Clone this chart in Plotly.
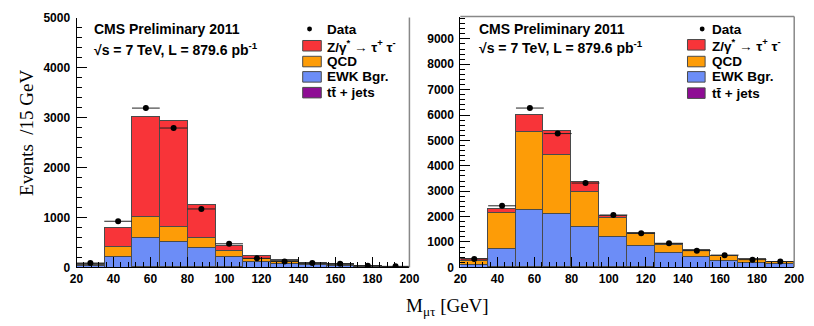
import numpy as np
import plotly.graph_objects as go

W, H = 814, 326

# ---------------- data ----------------
bin_lo = [20, 35, 50, 65, 80, 95, 110, 125, 140, 155, 170, 185]
bin_w = 15
x_ticks = [20, 40, 60, 80, 100, 120, 140, 160, 180, 200]
yL_ticks = [0, 1000, 2000, 3000, 4000, 5000]
yR_ticks = [0, 1000, 2000, 3000, 4000, 5000, 6000, 7000, 8000, 9000]

# Left panel (cumulative tops)
L_tt = [1, 4, 10, 10, 8, 6, 4, 3, 2, 1, 1, 1]
L_ewk_top = [35, 210, 594, 510, 400, 226, 123, 84, 52, 39, 20, 12]
L_qcd_top = [60, 420, 1020, 826, 594, 335, 180, 129, 84, 58, 28, 16]
L_z_top = [75, 800, 3020, 2935, 1258, 439, 232, 148, 90, 71, 32, 19]
L_data = [85, 922, 3187, 2788, 1168, 471, 180, 116, 84, 71, 32, 19]

# Right panel
R_tt = [3, 10, 25, 25, 20, 15, 10, 6, 4, 3, 2, 1]
R_ewk_top = [110, 757, 2270, 2120, 1600, 1200, 860, 593, 417, 278, 202, 139]
R_qcd_top = [260, 2146, 5330, 4430, 2980, 1970, 1325, 910, 670, 467, 328, 215]
R_z_top = [350, 2300, 6030, 5380, 3370, 2045, 1376, 934, 682, 480, 340, 227]
R_data = [328, 2424, 6275, 5270, 3320, 2060, 1340, 947, 657, 480, 303, 227]

labels = ["Data", "Z/γ<sup>*</sup> → τ<sup>+</sup> τ<sup>-</sup>", "QCD", "EWK Bgr.", "tt\u0304 + jets"]
C_Z, C_QCD, C_EWK, C_TT = "#f83439", "#fd9c07", "#6c8df7", "#8e0c94"
EDGE = "#4a4a4a"

centers = [b + bin_w / 2 for b in bin_lo]


def px(x):
    return x / W


def py(y):
    return 1 - y / H


def bold(vals):
    return ["<b>%d</b>" % v for v in vals]


fig = go.Figure()


def add_panel(xa, ya, tt, ewk_top, qcd_top, z_top, data):
    ewk = [e - t for e, t in zip(ewk_top, tt)]
    qcd = [q - e for q, e in zip(qcd_top, ewk_top)]
    z = [zz - q for zz, q in zip(z_top, qcd_top)]
    for vals, col in [(tt, C_TT), (ewk, C_EWK), (qcd, C_QCD), (z, C_Z)]:
        fig.add_trace(go.Bar(x=centers, y=vals, width=bin_w, marker=dict(color=col, line=dict(color=EDGE, width=1)),
                             xaxis=xa, yaxis=ya, showlegend=False, hoverinfo="skip"))
    fig.add_trace(go.Scatter(x=centers, y=data, mode="markers", xaxis=xa, yaxis=ya, showlegend=False,
                             marker=dict(color="black", size=6),
                             error_x=dict(type="constant", value=bin_w / 2, width=0, thickness=1, color="#222"),
                             error_y=dict(type="data", array=list(np.sqrt(data)), width=0, thickness=1, color="#222")))


add_panel("x", "y", L_tt, L_ewk_top, L_qcd_top, L_z_top, L_data)
add_panel("x2", "y2", R_tt, R_ewk_top, R_qcd_top, R_z_top, R_data)

tickfont = dict(family="Liberation Sans", size=12, color="black")
xcommon = dict(range=[20, 200], tickvals=x_ticks, ticktext=bold(x_ticks), ticks="inside", ticklen=10,
               tickcolor="black", showline=True, linecolor="black", linewidth=1, showgrid=False, zeroline=False,
               tickfont=tickfont, minor=dict(dtick=4, tick0=20, ticks="inside", ticklen=5, tickcolor="black"))
ycommon = dict(ticks="inside", ticklen=10, tickcolor="black", showline=True, linecolor="black", linewidth=1,
               showgrid=False, zeroline=False, tickfont=tickfont, ticklabelstandoff=3,
               minor=dict(dtick=200, tick0=0, ticks="inside", ticklen=5, tickcolor="black"))

fig.update_layout(
    width=W, height=H, margin=dict(l=0, r=0, t=0, b=0),
    paper_bgcolor="white", plot_bgcolor="white", barmode="stack", bargap=0,
    xaxis=dict(domain=[px(71), px(411)], anchor="y", **xcommon),
    yaxis=dict(domain=[py(272), py(11)], anchor="x", range=[0, 5000], tickvals=yL_ticks, ticktext=bold(yL_ticks),
               **ycommon),
    xaxis2=dict(domain=[px(463), px(804)], anchor="y2", **xcommon),
    yaxis2=dict(domain=[py(272), py(10)], anchor="x2", range=[0, 9880], tickvals=yR_ticks, ticktext=bold(yR_ticks),
                **ycommon),
)

shapes = []
annos = []
# frame borders
shapes.append(dict(type="line", xref="paper", yref="paper", x0=px(411), x1=px(411), y0=py(272), y1=py(11),
                   line=dict(color="#888", width=1.5)))
shapes.append(dict(type="line", xref="paper", yref="paper", x0=px(804), x1=px(804), y0=py(272), y1=py(10),
                   line=dict(color="#888", width=1.5)))
shapes.append(dict(type="line", xref="paper", yref="paper", x0=px(463), x1=px(804), y0=py(10), y1=py(10),
                   line=dict(color="#888", width=1.5)))

txtfont = dict(family="Liberation Sans", size=14, color="black")
legfont = dict(family="Liberation Sans", size=13.5, color="black")


def panel_text(x0, y1, y2):
    annos.append(dict(text="<b>CMS Preliminary 2011</b>", x=px(x0), y=py(y1), xref="paper", yref="paper",
                      xanchor="left", yanchor="middle", showarrow=False, font=txtfont))
    annos.append(dict(text="<b>√s = 7 TeV, L = 879.6 pb<sup>-1</sup></b>", x=px(x0), y=py(y2), xref="paper",
                      yref="paper", xanchor="left", yanchor="middle", showarrow=False, font=txtfont))


def legend(dot_x, box_x0, box_x1, text_x, rows):
    shapes.append(dict(type="circle", xref="paper", yref="paper", x0=px(dot_x - 2.5), x1=px(dot_x + 2.5),
                       y0=py(rows[0] + 2.5), y1=py(rows[0] - 2.5), fillcolor="black", line=dict(width=0)))
    for lab, r in zip(labels, rows):
        annos.append(dict(text="<b>%s</b>" % lab, x=px(text_x), y=py(r), xref="paper", yref="paper",
                          xanchor="left", yanchor="middle", showarrow=False, font=legfont))
    for col, r in zip([C_Z, C_QCD, C_EWK, C_TT], rows[1:]):
        shapes.append(dict(type="rect", xref="paper", yref="paper", x0=px(box_x0), x1=px(box_x1),
                           y0=py(r + 5.5), y1=py(r - 5.5), fillcolor=col, line=dict(color=EDGE, width=1)))


panel_text(87, 23, 44)
panel_text(480, 23, 42)
legend(309, 302, 321, 325, [23, 40.5, 57, 73, 89.5])
legend(710, 695, 713, 718, [23, 39.5, 57, 73, 90])

serif = dict(family="Liberation Serif, Times New Roman, serif", size=19, color="black")
annos.append(dict(text="Events  /15 GeV", x=px(20), y=py(132), xref="paper", yref="paper", textangle=-90,
                  xanchor="center", yanchor="middle", showarrow=False, font=serif))
annos.append(dict(text="M<sub>μτ</sub> [GeV]", x=px(405), y=py(313), xref="paper", yref="paper",
                  xanchor="left", yanchor="middle", showarrow=False, font=serif))

fig.update_layout(shapes=shapes, annotations=annos)
fig.write_html("out.html")
